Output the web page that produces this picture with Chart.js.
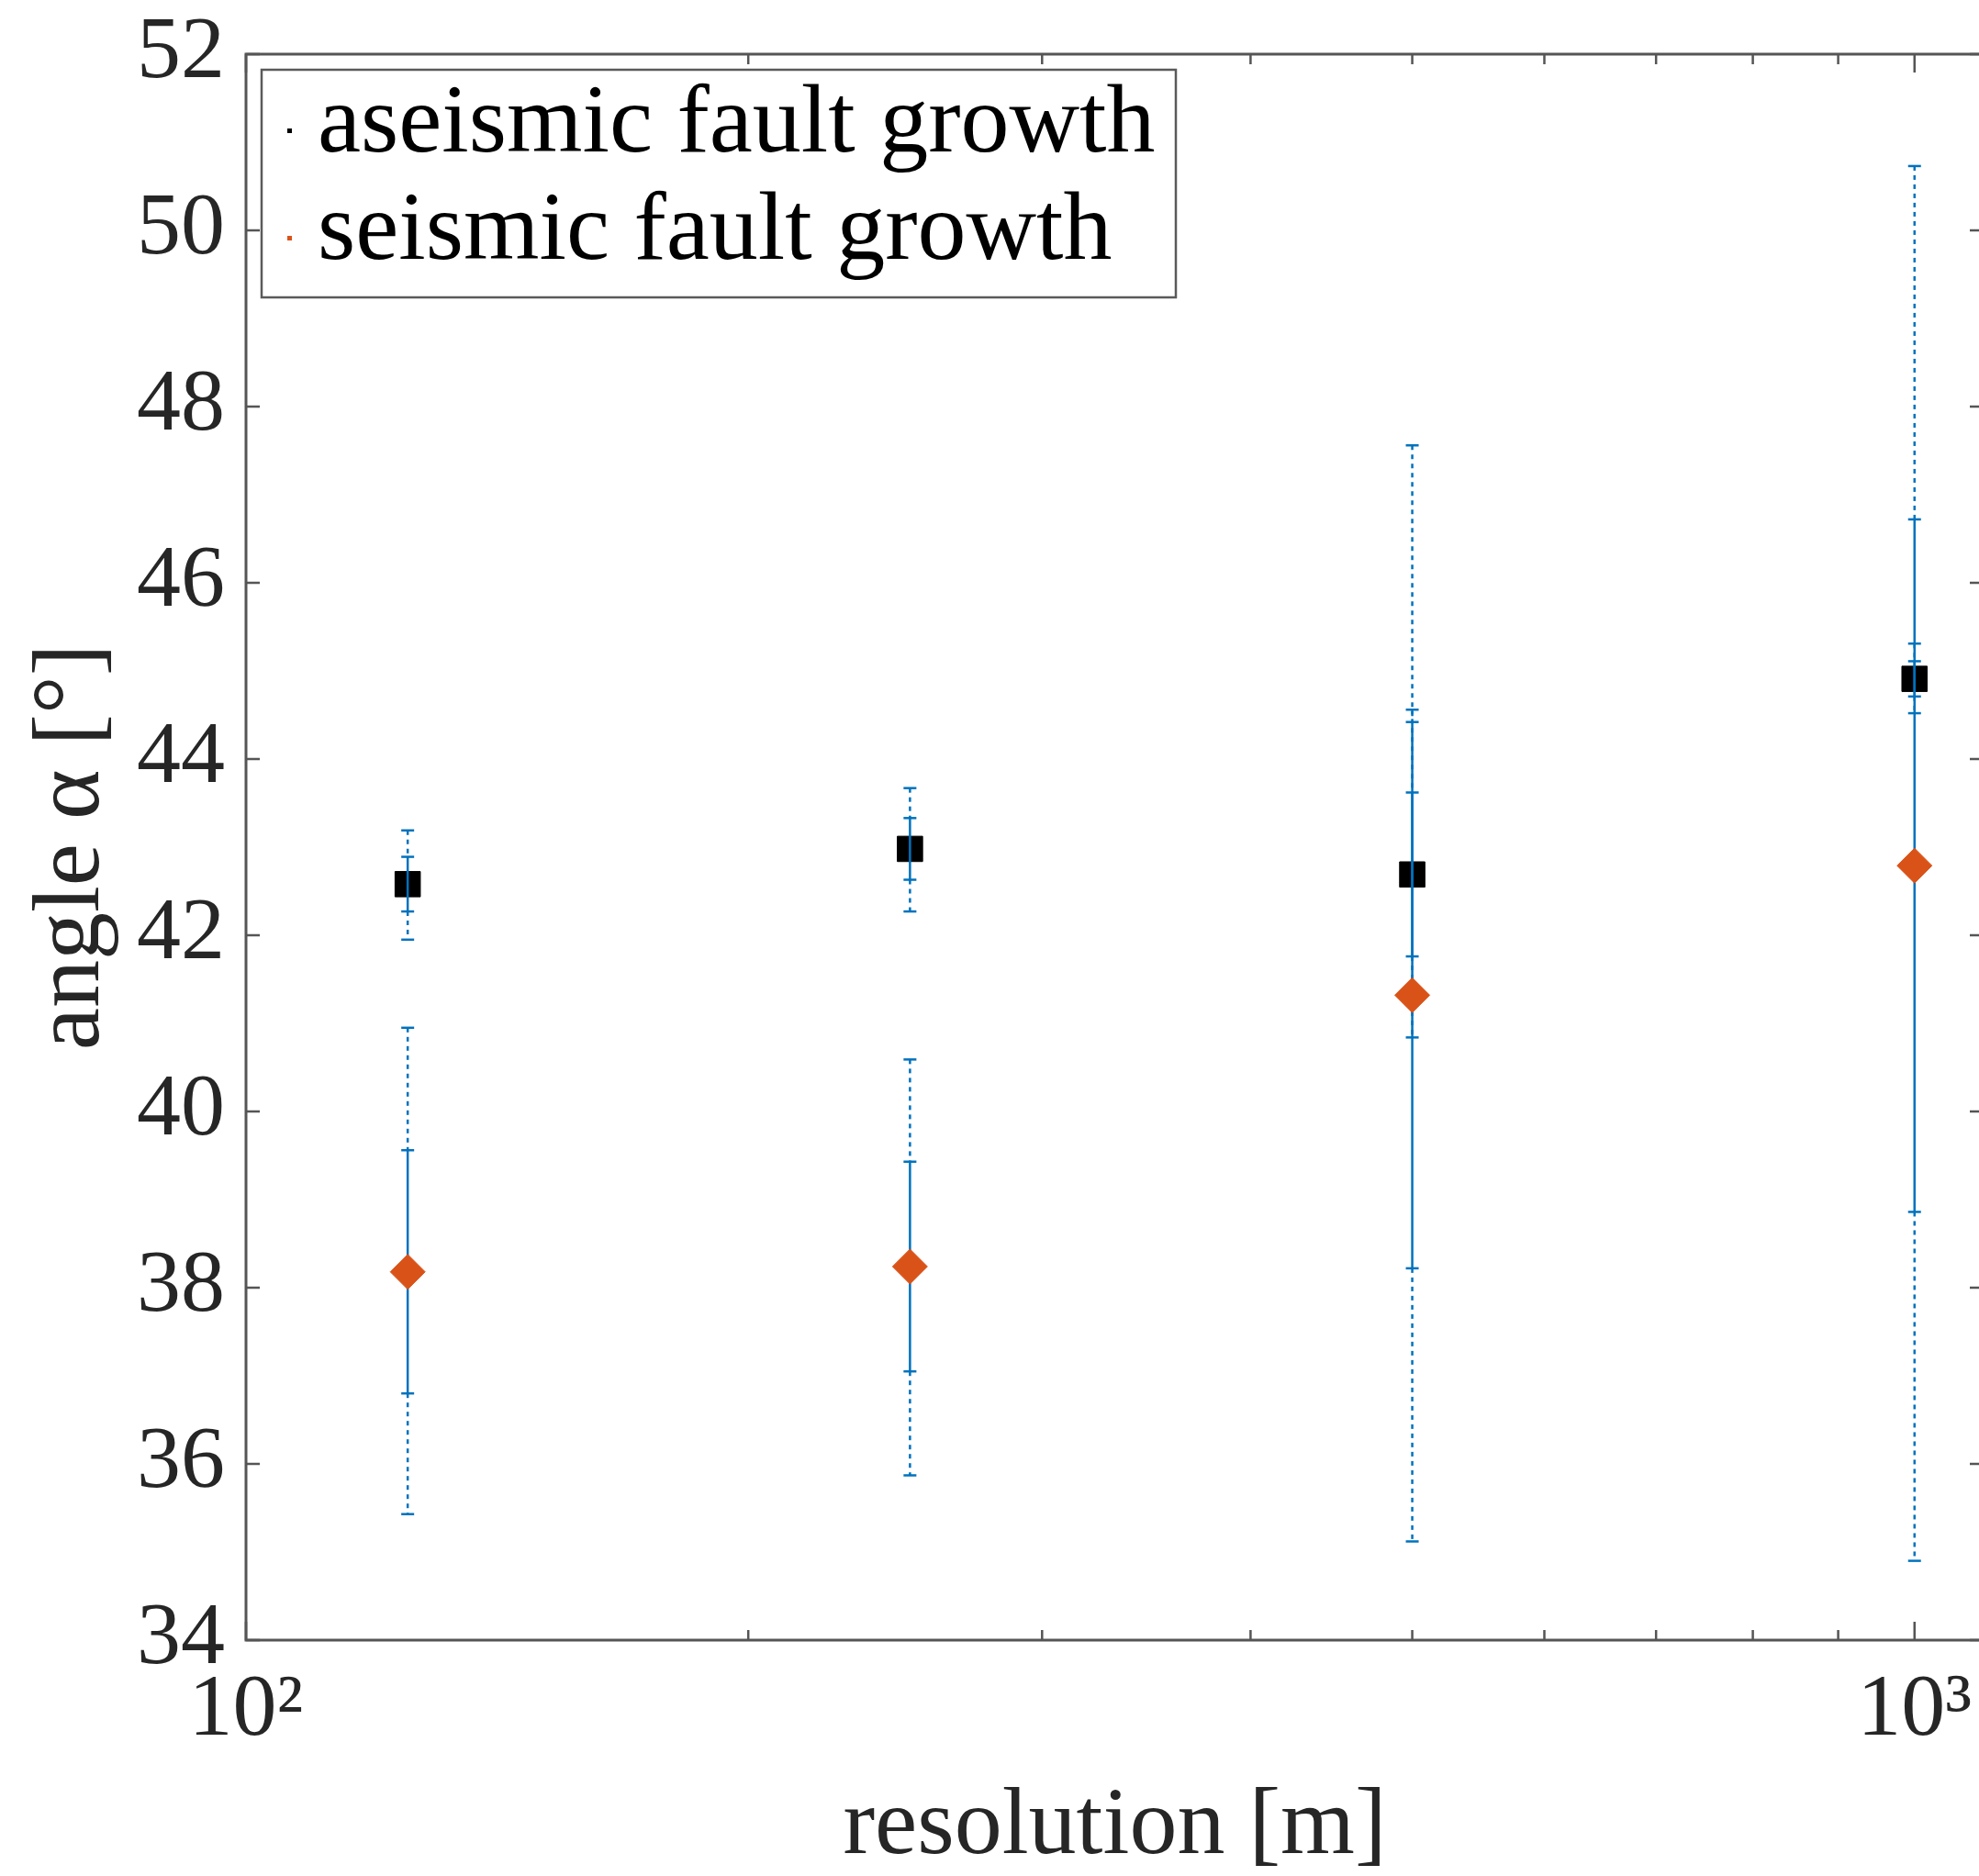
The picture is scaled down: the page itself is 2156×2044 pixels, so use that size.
<!DOCTYPE html>
<html>
<head>
<meta charset="utf-8">
<script src="https://cdn.jsdelivr.net/npm/chart.js@4.4.1/dist/chart.umd.min.js"></script>
<style>
  html, body { margin: 0; padding: 0; background: #fff; overflow: hidden; }
  #wrap { width: 2156px; height: 2044px; overflow: hidden; background: #fff; }
</style>
</head>
<body>
<div id="wrap"><canvas id="myChart" width="2200" height="2044"></canvas></div>
<script>
// data
const resolution = [125, 250, 500, 1000];

const aseismicMean = [42.58, 42.98, 42.69, 44.91];
const aseismicStd  = [0.31, 0.35, 0.93, 0.2];
const aseismicMin  = [41.95, 42.27, 40.84, 44.52];
const aseismicMax  = [43.19, 43.67, 44.56, 45.31];

const seismicMean = [38.18, 38.24, 41.32, 42.79];
const seismicStd  = [1.38, 1.19, 3.1, 3.93];
const seismicMin  = [35.43, 35.87, 35.12, 34.90];
const seismicMax  = [40.95, 40.59, 47.56, 50.73];

const seriesLabels = ['aseismic fault growth', 'seismic fault growth'];

const xTickValues = [100, 200, 300, 400, 500, 600, 700, 800, 900, 1000];
const xMajorTicks = [100, 1000];
const xTickLabels = ['10²', '10³'];
const yTickValues = [34, 36, 38, 40, 42, 44, 46, 48, 50, 52];

const blue = '#0072BD';
const orange = '#D95319';
const axisColor = '#555555';
const textColor = '#262626';
const serif = "'Liberation Serif', 'DejaVu Serif', serif";

const errorBarPlugin = {
  id: 'errorBars',
  afterDatasetDraw(chart, args) {
    if (args.index !== 0) return;
    const xs = chart.scales.x, ys = chart.scales.y;
    const ctx = chart.ctx;
    const groups = [
      [aseismicMean, aseismicStd, aseismicMin, aseismicMax],
      [seismicMean, seismicStd, seismicMin, seismicMax]
    ];
    const seg = (x, y1, y2) => { ctx.beginPath(); ctx.moveTo(x, y1); ctx.lineTo(x, y2); ctx.stroke(); };
    const cap = (x, y) => { ctx.beginPath(); ctx.moveTo(x - 7, y); ctx.lineTo(x + 7, y); ctx.stroke(); };
    ctx.save();
    ctx.strokeStyle = blue;
    groups.forEach(([m, s, lo, hi]) => {
      resolution.forEach((r, i) => {
        const px = xs.getPixelForValue(r);
        const pTop = ys.getPixelForValue(m[i] + s[i]);
        const pBot = ys.getPixelForValue(m[i] - s[i]);
        const pHi = ys.getPixelForValue(hi[i]);
        const pLo = ys.getPixelForValue(lo[i]);
        ctx.lineWidth = 2.5;
        ctx.setLineDash([5, 5]);
        seg(px, pHi, pTop);
        seg(px, pBot, pLo);
        ctx.setLineDash([]);
        ctx.lineWidth = 2.5;
        seg(px, pTop, pBot);
        ctx.lineWidth = 2.5;
        [pTop, pBot, pHi, pLo].forEach(py => cap(px, py));
      });
    });
    ctx.restore();
  }
};

const boxPlugin = {
  id: 'box',
  afterDraw(chart) {
    const {ctx, chartArea: a} = chart;
    const xs = chart.scales.x, ys = chart.scales.y;
    ctx.save();
    ctx.strokeStyle = axisColor;
    ctx.lineWidth = 3;
    ctx.strokeRect(a.left, a.top, a.right - a.left, a.bottom - a.top);
    ctx.lineWidth = 2.5;
    ctx.beginPath();
    yTickValues.forEach(v => {
      const py = ys.getPixelForValue(v);
      ctx.moveTo(a.left, py); ctx.lineTo(a.left + 15, py);
      ctx.moveTo(a.right, py); ctx.lineTo(a.right - 15, py);
    });
    xTickValues.forEach(v => {
      const px = xs.getPixelForValue(v);
      const len = xMajorTicks.includes(v) ? 20 : 11;
      ctx.moveTo(px, a.bottom); ctx.lineTo(px, a.bottom - len);
      ctx.moveTo(px, a.top); ctx.lineTo(px, a.top + len);
    });
    ctx.stroke();

    // legend
    const lx = 285, ly = 76, lw = 996, lh = 248;
    ctx.fillStyle = '#fff';
    ctx.fillRect(lx, ly, lw, lh);
    ctx.strokeStyle = '#5a5a5a';
    ctx.lineWidth = 2.5;
    ctx.strokeRect(lx, ly, lw, lh);
    const colors = ['#000', orange];
    const baselines = [165, 282];
    ctx.font = '106px ' + serif;
    ctx.textBaseline = 'alphabetic';
    ctx.textAlign = 'left';
    seriesLabels.forEach((lab, i) => {
      ctx.fillStyle = colors[i];
      ctx.fillRect(313, baselines[i] - 25, 5, 5);
      ctx.fillStyle = '#000';
      ctx.fillText(lab, 346, baselines[i]);
    });
    ctx.restore();
  }
};

const ctx = document.getElementById('myChart');

const chart = new Chart(ctx, {
  type: 'scatter',
  data: {
    datasets: [{
      label: seriesLabels[0],
      data: resolution.map((r, i) => ({x: r, y: aseismicMean[i]})),
      pointStyle: 'rect',
      pointRadius: 19.5,
      backgroundColor: '#000',
      borderColor: '#000',
      borderWidth: 1,
      order: 2
    }, {
      label: seriesLabels[1],
      data: resolution.map((r, i) => ({x: r, y: seismicMean[i]})),
      pointStyle: 'rectRot',
      pointRadius: 19,
      backgroundColor: orange,
      borderColor: orange,
      borderWidth: 1,
      order: 1
    }]
  },
  options: {
    responsive: false,
    animation: false,
    events: [],
    layout: { padding: { top: 59, right: 39, left: 0, bottom: 0 } },
    plugins: {
      legend: { display: false },
      tooltip: { enabled: false }
    },
    scales: {
      x: {
        type: 'logarithmic',
        min: 100,
        max: 1100,
        grid: { display: false, drawTicks: false },
        border: { display: false },
        afterBuildTicks: s => { s.ticks = xTickValues.map(v => ({value: v})); },
        afterFit: s => { s.height = 257; s.paddingLeft = 0; s.paddingRight = 0; },
        ticks: {
          autoSkip: false,
          maxRotation: 0,
          padding: 20,
          color: textColor,
          font: { family: serif, size: 96 },
          callback: v => {
            const k = xMajorTicks.indexOf(v);
            return k >= 0 ? xTickLabels[k] : '';
          }
        },
        title: {
          display: true,
          text: 'resolution [m]',
          color: textColor,
          font: { family: serif, size: 104, lineHeight: 1 },
          padding: { top: 2, bottom: 0 }
        }
      },
      y: {
        min: 34,
        max: 52,
        grid: { display: false, drawTicks: false },
        border: { display: false },
        afterBuildTicks: s => { s.ticks = yTickValues.map(v => ({value: v})); },
        afterFit: s => { s.width = 268; s.paddingTop = 0; s.paddingBottom = 0; },
        ticks: {
          padding: 23,
          color: textColor,
          font: { family: serif, size: 96 }
        },
        title: {
          display: true,
          text: 'angle α [°]',
          color: textColor,
          font: { family: serif, size: 104, lineHeight: 1 },
          padding: { top: 28, bottom: 0 }
        }
      }
    }
  },
  plugins: [errorBarPlugin, boxPlugin]
});
</script>
</body>
</html>
